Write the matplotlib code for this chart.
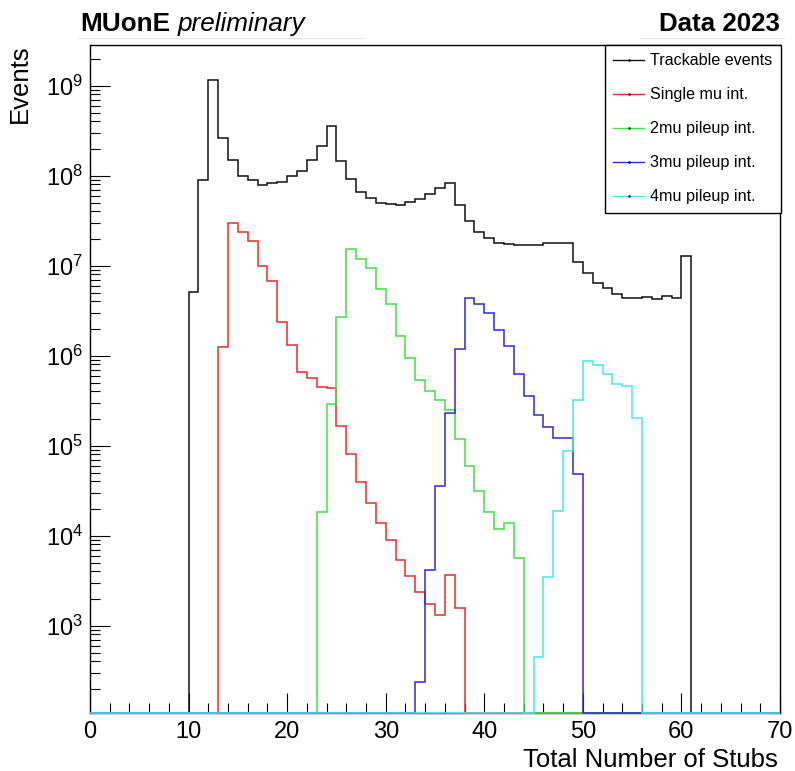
import numpy as np
import matplotlib.pyplot as plt
from matplotlib.lines import Line2D
from matplotlib.ticker import MultipleLocator, LogLocator, NullFormatter

plt.rcParams['font.family'] = ['Liberation Sans', 'DejaVu Sans']
plt.rcParams['mathtext.fontset'] = 'custom'
plt.rcParams['mathtext.rm'] = 'Liberation Sans'
plt.rcParams['mathtext.it'] = 'Liberation Sans:italic'
plt.rcParams['mathtext.bf'] = 'Liberation Sans:bold'

# 70 bins of width 1 from 0 to 70
edges = np.arange(0, 71)

# bin contents (first filled bin + values)
trackable_first = 10
trackable = [5.1e6, 8.9e7, 1.15e9, 2.6e8, 1.5e8, 1.0e8, 9.0e7, 7.9e7, 8.3e7, 8.4e7,
             9.8e7, 1.14e8, 1.48e8, 2.15e8, 3.56e8, 1.44e8, 9.2e7, 6.5e7, 5.7e7, 4.95e7,
             4.85e7, 4.75e7, 5.1e7, 5.5e7, 6.3e7, 7.2e7, 8.3e7, 4.7e7, 3.1e7, 2.35e7,
             2.03e7, 1.8e7, 1.75e7, 1.68e7, 1.71e7, 1.71e7, 1.8e7, 1.8e7, 1.8e7, 1.09e7,
             8.3e6, 6.4e6, 5.6e6, 4.85e6, 4.4e6, 4.4e6, 4.5e6, 4.3e6, 4.6e6, 4.4e6,
             1.28e7]

single_first = 13
single = [1.25e6, 2.98e7, 2.37e7, 1.86e7, 9.9e6, 6.8e6, 2.34e6, 1.32e6, 6.6e5, 5.6e5,
          4.45e5, 4.4e5, 1.66e5, 8.1e4, 3.95e4, 2.33e4, 1.38e4, 8.95e3, 5.3e3, 3.55e3,
          2.37e3, 1.76e3, 1.32e3, 3.66e3, 1.56e3]

pileup2_first = 23
pileup2 = [1.82e4, 2.87e5, 2.67e6, 1.53e7, 1.2e7, 9.3e6, 5.5e6, 3.75e6, 1.66e6, 9.4e5,
           5.3e5, 4.1e5, 3.2e5, 2.5e5, 1.19e5, 6.0e4, 3.16e4, 1.85e4, 1.2e4, 1.37e4,
           5.6e3]

pileup3_first = 33
pileup3 = [2.37e2, 4.1e3, 3.6e4, 2.3e5, 1.2e6, 4.4e6, 3.75e6, 2.98e6, 1.91e6, 1.27e6,
           6.3e5, 3.6e5, 2.17e5, 1.6e5, 1.22e5, 1.22e5, 4.9e4]

pileup4_first = 45
pileup4 = [4.5e2, 3.5e3, 1.9e4, 8.8e4, 3.24e5, 8.8e5, 7.9e5, 6.3e5, 4.8e5, 4.6e5,
           2.03e5]

labels = ['Trackable events', 'Single mu int.', '2mu pileup int.',
          '3mu pileup int.', '4mu pileup int.']
colors = ['#111111', '#ee2a2a', '#3fe23f', '#2a2ad8', '#45e8ea']

ymin, ymax = 107, 2.83e9


def fill(first, vals):
    h = np.zeros(len(edges) - 1)
    h[first:first + len(vals)] = vals
    return h


hists = [fill(trackable_first, trackable), fill(single_first, single),
         fill(pileup2_first, pileup2), fill(pileup3_first, pileup3),
         fill(pileup4_first, pileup4)]

fig = plt.figure(figsize=(7.95, 7.71), dpi=100)
ax = fig.add_axes([90 / 795, 1 - 713 / 771, 690 / 795, 668 / 771])

for h, c in zip(hists, colors):
    # empty bins sit on the bottom of the frame, like ROOT does
    ax.stairs(np.clip(h, ymin, None), edges, color=c, lw=1.1, baseline=None,
              zorder=3, clip_on=False)

ax.set_yscale('log')
ax.set_xlim(0, 70)
ax.set_ylim(ymin, ymax)
ax.xaxis.set_major_locator(MultipleLocator(10))
ax.xaxis.set_minor_locator(MultipleLocator(2))
ax.yaxis.set_major_locator(LogLocator(base=10, numticks=20))
ax.yaxis.set_minor_locator(LogLocator(base=10, subs=np.arange(2, 10), numticks=20))
ax.yaxis.set_minor_formatter(NullFormatter())

ax.tick_params(which='both', direction='in', top=False, right=False, width=0.8)
ax.tick_params(which='major', length=14.4, labelsize=17)
ax.tick_params(axis='x', which='major', pad=6)
ax.tick_params(axis='y', which='major', pad=5)
ax.tick_params(which='minor', length=7.2)
for s in ax.spines.values():
    s.set_linewidth(1.0)

handles = [Line2D([], [], color=c, lw=1.0, marker='.', markersize=1.5,
                  markerfacecolor='k', markeredgecolor='k') for c in colors]
leg = ax.legend(handles, labels, loc='upper right',
                bbox_to_anchor=(781 / 795, 1 - 45 / 771), bbox_transform=fig.transFigure,
                fontsize=11.6, frameon=True, fancybox=False, edgecolor='black',
                framealpha=1, borderaxespad=0, handlelength=1.9, handletextpad=0.4,
                labelspacing=1.18, borderpad=0.52)
leg.get_frame().set_linewidth(1.0)

fig.text(80 / 795, 1 - 31 / 771, 'MUonE', fontsize=18.8, weight='bold', va='baseline')
fig.text(178 / 795, 1 - 31 / 771, 'preliminary', fontsize=18.8, style='italic', va='baseline')
fig.text(780 / 795, 1 - 31 / 771, 'Data 2023', fontsize=18.6, weight='bold',
         ha='right', va='baseline')
fig.add_artist(Line2D([78 / 795, 363 / 795], [1 - 38 / 771] * 2, color='#e4e4e4', lw=0.8))
fig.add_artist(Line2D([640 / 795, 784 / 795], [1 - 38 / 771] * 2, color='#e4e4e4', lw=0.8))

fig.text(778 / 795, 4 / 771, 'Total Number of Stubs', fontsize=18.5,
         ha='right', va='baseline')
fig.text(20 / 795, 1 - 44 / 771, 'Events', fontsize=18.5, rotation=90,
         ha='center', va='top')

fig.savefig('out.png', dpi=100)
